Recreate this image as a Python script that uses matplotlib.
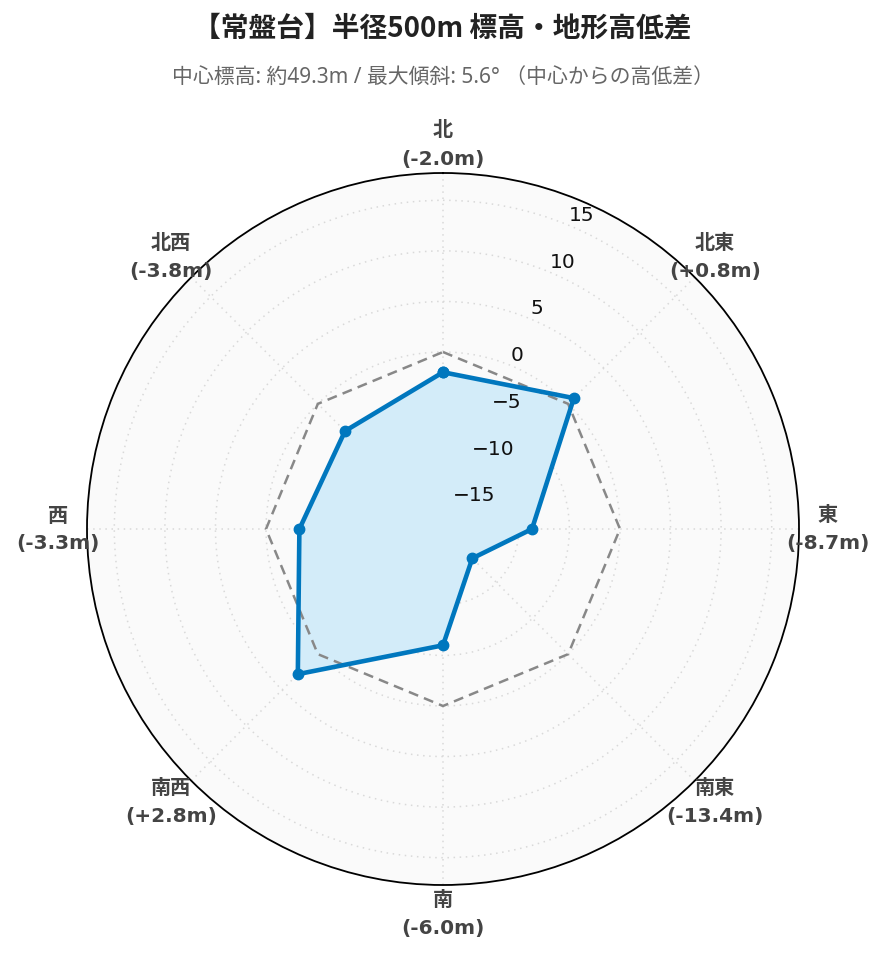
import numpy as np
import matplotlib
matplotlib.use("Agg")
import matplotlib.pyplot as plt

# ---- data ----
directions = ["北", "北東", "東", "南東", "南", "南西", "西", "北西"]
values = [-2.0, 0.8, -8.7, -13.4, -6.0, 2.8, -3.3, -3.8]
reference = [0, 0, 0, 0, 0, 0, 0, 0]
radial_ticks = [-15, -10, -5, 0, 5, 10, 15]
r_range = (-17.5, 17.7)
title = "【常盤台】半径500m 標高・地形高低差"
subtitle = "中心標高: 約49.3m / 最大傾斜: 5.6° （中心からの高低差）"

W, H = 885, 962
fig = plt.figure(figsize=(W / 100, H / 100), dpi=100)
fig.patch.set_facecolor("white")

cx, cy, R = 443, 530, 356
ax = fig.add_axes([(cx - R) / W, (H - cy - R) / H, 2 * R / W, 2 * R / H],
                  projection="polar")
ax.set_theta_zero_location("N")
ax.set_theta_direction(-1)
ax.set_facecolor("#fafafa")
ax.set_ylim(*r_range)

n = len(directions)
theta = np.deg2rad(np.arange(n) * 360 / n)
th_closed = np.append(theta, theta[0])

# grid
ax.set_xticks(theta)
ax.set_xticklabels([])
ax.set_yticks(radial_ticks)
ax.set_yticklabels([])
ax.grid(True, color="#d9d9d9", linestyle=(0, (1, 3)), linewidth=1.1)
ax.spines["polar"].set_color("black")
ax.spines["polar"].set_linewidth(1.3)
ax.tick_params(axis="both", length=0)

# reference octagon
ref_closed = np.append(reference, reference[0])
ax.plot(th_closed, ref_closed, color="#888888", linestyle=(0, (4, 2.5)),
        linewidth=1.8, zorder=3)

# data
v_closed = np.append(values, values[0])
ax.fill(th_closed, v_closed, color="#d3ecf9", alpha=1.0, zorder=2)
ax.plot(th_closed, v_closed, color="#0077be", linewidth=3.3, zorder=4,
        marker="o", markersize=7.5, markerfacecolor="#0077be",
        markeredgecolor="#0077be")

# radial tick labels along 22.5 deg
ang = np.deg2rad(22.5)
for t in radial_ticks:
    lab = str(t).replace("-", "\u2212")
    ax.annotate(lab, xy=(ang, t), xytext=(0, 1), textcoords="offset points",
                ha="left", va="bottom", fontsize=14.5, color="#111111",
                family=["DejaVu Sans"], zorder=6)

# direction labels
k = 385 / R
for d, v, th in zip(directions, values, theta):
    x = 0.5 + 0.5 * k * np.sin(th)
    y = 0.5 + 0.5 * k * np.cos(th)
    txt = f"{d}\n({v:+.1f}m)" if v > 0 else f"{d}\n({v:.1f}m)"
    ax.text(x, y, txt, transform=ax.transAxes, ha="center", va="center",
            fontsize=14.5, fontweight="bold", color="#444444",
            family=["DejaVu Sans", "Noto Sans CJK JP"], linespacing=1.6,
            clip_on=False)

fig.text(0.5, 1 - 28 / H, title, ha="center", va="center", fontsize=20,
         fontweight="bold", color="#222222",
         family=["Noto Sans CJK JP"])
fig.text(0.5, 1 - 77 / H, subtitle, ha="center", va="center", fontsize=15,
         color="#666666", family=["Noto Sans", "Noto Sans CJK JP"])

fig.savefig("out.png", dpi=100, facecolor="white")
